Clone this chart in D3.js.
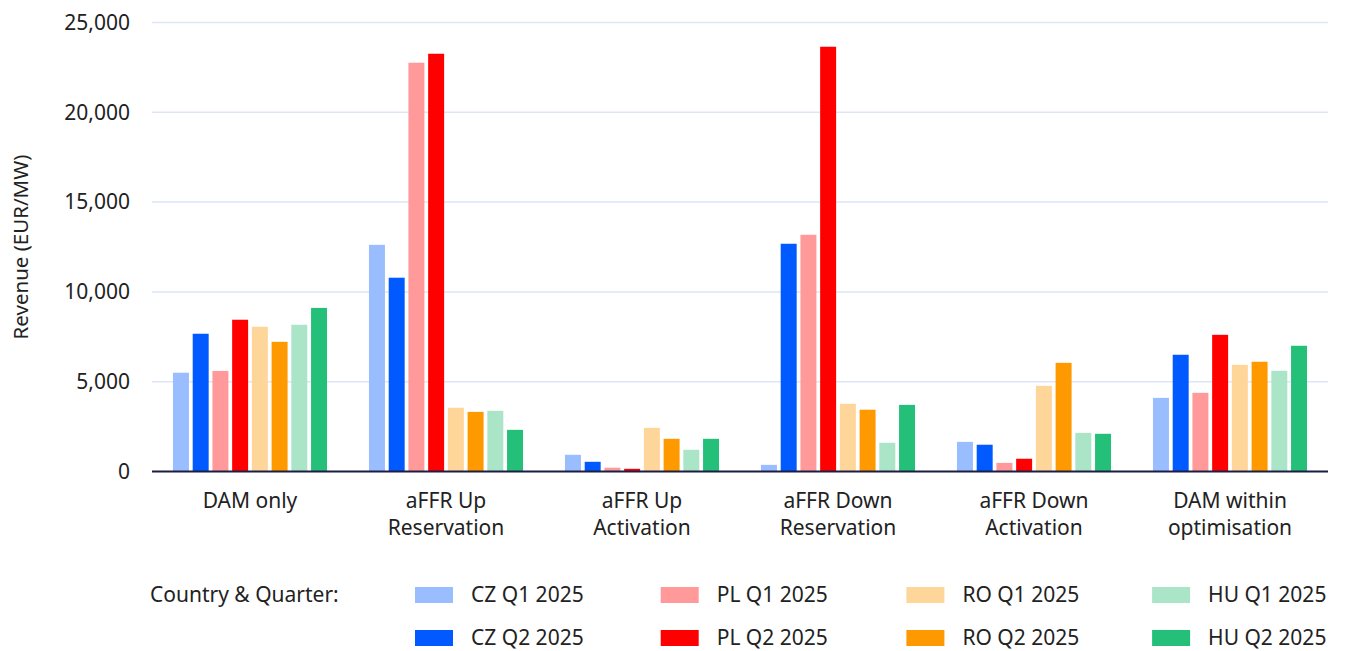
<!DOCTYPE html>
<html>
<head>
<meta charset="utf-8">
<script src="https://cdn.jsdelivr.net/npm/d3@7"></script>
<style>
  html, body { margin: 0; padding: 0; background: #ffffff; }
  svg { display: block; font-family: "Noto Sans", "Open Sans", sans-serif; }
</style>
</head>
<body>
<svg id="chart" width="1346" height="651"></svg>
<script>
// Revenue streams (two-line labels)
const categories = [
  ["DAM only"],
  ["aFFR Up", "Reservation"],
  ["aFFR Up", "Activation"],
  ["aFFR Down", "Reservation"],
  ["aFFR Down", "Activation"],
  ["DAM within", "optimisation"]
];

const seriesNames = ["CZ Q1 2025", "CZ Q2 2025", "PL Q1 2025", "PL Q2 2025",
                     "RO Q1 2025", "RO Q2 2025", "HU Q1 2025", "HU Q2 2025"];
const seriesColors = ["#9abdff", "#005aff", "#ff999a", "#ff0000",
                      "#ffd699", "#ff9900", "#aae5c8", "#24c07a"];

// Revenue (EUR/MW) per series, one value per category
const czQ1 = [5500, 12620, 930, 370, 1650, 4100];
const czQ2 = [7670, 10790, 540, 12680, 1490, 6500];
const plQ1 = [5600, 22760, 210, 13180, 480, 4380];
const plQ2 = [8450, 23260, 150, 23650, 710, 7610];
const roQ1 = [8060, 3550, 2430, 3770, 4770, 5940];
const roQ2 = [7220, 3320, 1820, 3440, 6050, 6110];
const huQ1 = [8170, 3380, 1210, 1600, 2150, 5610];
const huQ2 = [9110, 2320, 1820, 3710, 2100, 7000];
const seriesValues = [czQ1, czQ2, plQ1, plQ2, roQ1, roQ2, huQ1, huQ2];

const yTicks = [0, 5000, 10000, 15000, 20000, 25000];

const FONT_SIZE = 21;
const TEXT_COLOR = "#222";

const svg = d3.select("#chart");
const margin = { left: 152, right: 18, top: 22.5, bottom: 179.5 };
const W = 1346, H = 651;
const plotW = W - margin.left - margin.right;
const plotH = H - margin.top - margin.bottom;

const g = svg.append("g").attr("transform", `translate(${margin.left},${margin.top})`);

const x0 = d3.scaleBand()
  .domain(d3.range(categories.length))
  .range([0, plotW])
  .paddingInner(0.214)
  .paddingOuter(0.107);

const x1 = d3.scaleBand()
  .domain(d3.range(seriesNames.length))
  .range([0, x0.bandwidth()])
  .paddingInner(0.19)
  .paddingOuter(0);

const y = d3.scaleLinear().domain([0, 25000]).range([plotH, 0]);

// Gridlines
g.append("g")
  .selectAll("line")
  .data(yTicks.filter(t => t > 0))
  .join("line")
  .attr("x1", 0).attr("x2", plotW)
  .attr("y1", d => y(d)).attr("y2", d => y(d))
  .attr("stroke", "#dde6f7")
  .attr("stroke-width", 1.5);

// Y axis labels
const yAxis = d3.axisLeft(y)
  .tickValues(yTicks)
  .tickFormat(d3.format(","))
  .tickSize(0)
  .tickPadding(22);
const ya = g.append("g").call(yAxis);
ya.select(".domain").remove();
ya.selectAll("text")
  .attr("font-size", FONT_SIZE)
  .attr("fill", TEXT_COLOR)
  .attr("font-family", "\"Noto Sans\", \"Open Sans\", sans-serif");

// Y axis title
svg.append("text")
  .attr("transform", `translate(28,${margin.top + plotH / 2}) rotate(-90)`)
  .attr("text-anchor", "middle")
  .attr("font-size", 20.5)
  .attr("fill", TEXT_COLOR)
  .text("Revenue (EUR/MW)");

// Bars
const rows = [];
categories.forEach((c, ci) => {
  seriesValues.forEach((vals, si) => rows.push({ ci, si, v: vals[ci] }));
});

g.append("g")
  .selectAll("rect")
  .data(rows)
  .join("rect")
  .attr("x", d => x0(d.ci) + x1(d.si))
  .attr("width", x1.bandwidth())
  .attr("y", d => y(d.v))
  .attr("height", d => y(0) - y(d.v))
  .attr("fill", d => seriesColors[d.si]);

// Baseline
g.append("line")
  .attr("x1", 0).attr("x2", plotW)
  .attr("y1", y(0)).attr("y2", y(0))
  .attr("stroke", "#1c1c44")
  .attr("stroke-width", 2);

// Category labels
const cl = g.append("g")
  .selectAll("text")
  .data(categories)
  .join("text")
  .attr("text-anchor", "middle")
  .attr("font-size", FONT_SIZE)
  .attr("fill", TEXT_COLOR)
  .attr("x", (d, i) => x0(i) + x0.bandwidth() / 2)
  .attr("y", plotH + 36);
cl.selectAll("tspan")
  .data(d => d)
  .join("tspan")
  .attr("x", function () { return d3.select(this.parentNode).attr("x"); })
  .attr("dy", (d, i) => i === 0 ? 0 : 27)
  .text(d => d);

// Legend
const legend = svg.append("g");
legend.append("text")
  .attr("x", 150).attr("y", 602)
  .attr("font-size", FONT_SIZE)
  .attr("fill", TEXT_COLOR)
  .text("Country & Quarter:");

const legendItems = legend.selectAll("g.item")
  .data(seriesNames)
  .join("g")
  .attr("class", "item")
  .attr("transform", (d, i) => `translate(${415 + Math.floor(i / 2) * 245.7},${587 + (i % 2) * 43})`);
legendItems.append("rect")
  .attr("width", 38).attr("height", 16)
  .attr("fill", (d, i) => seriesColors[i]);
legendItems.append("text")
  .attr("x", 56).attr("y", 15)
  .attr("font-size", FONT_SIZE)
  .attr("fill", TEXT_COLOR)
  .text(d => d);
</script>
</body>
</html>
